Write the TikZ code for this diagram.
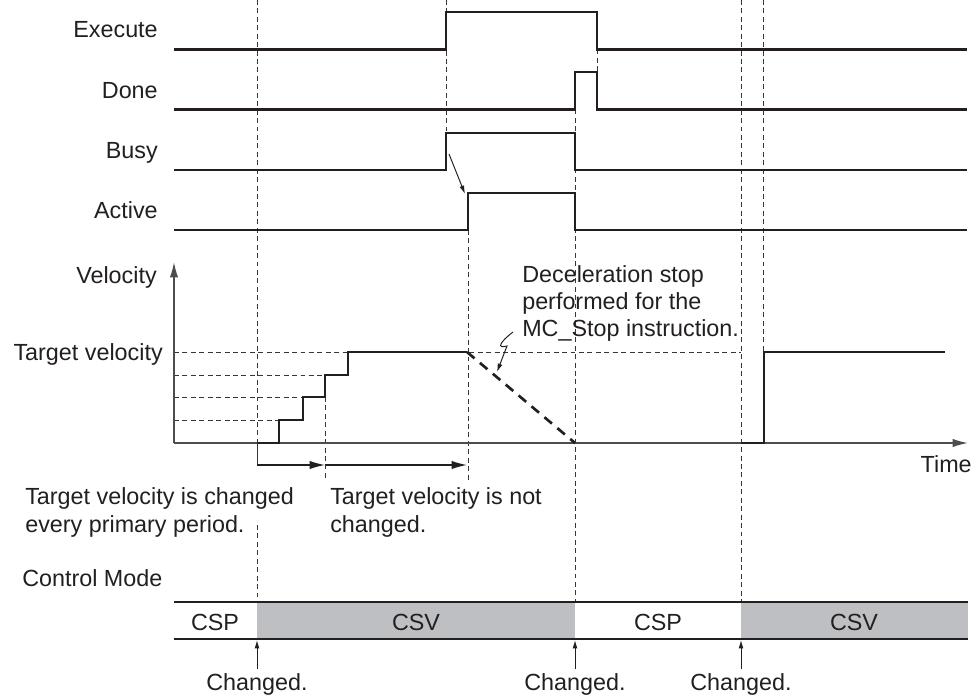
\documentclass[tikz,border=0pt]{standalone}
\usepackage{fontspec}
\setmainfont{Liberation Sans}
\usetikzlibrary{arrows.meta}
\definecolor{ink}{RGB}{35,31,32}
\definecolor{barfill}{RGB}{190,191,194}
\begin{document}
\begin{tikzpicture}[x=0.025cm,y=-0.025cm,
  lbl/.style={font=\fontsize{16.6}{19}\selectfont, inner sep=0pt, text=ink},
  sig/.style={line width=1.9pt, line join=miter, draw=ink},
  guide/.style={line width=0.7pt, dash pattern=on 3.5pt off 2.5pt, draw=ink!90},
  axisline/.style={line width=1.1pt, draw=ink!80},
  decel/.style={line width=1.9pt, dash pattern=on 7pt off 5pt, draw=ink},
  bigarrow/.style={line width=1pt, draw=ink, -{Latex[length=11pt,width=6pt]}},
  smallarrow/.style={line width=0.7pt, draw=ink, -{Latex[length=6pt,width=3.5pt]}},
  barline/.style={line width=2pt, draw=ink}
]
\useasboundingbox (0,0) rectangle (975,697);

% ---- control mode bar fills
\fill[barfill] (257,602) rectangle (575,639);
\fill[barfill] (741,602) rectangle (968,639);

% ---- guide lines
\draw[guide] (257,0) -- (257,465);
\draw[guide] (257,525) -- (257,602);
\draw[guide] (446,0) -- (446,133);
\draw[guide] (597,49.5) -- (597,72);
\draw[guide] (575,109.5) -- (575,602);
\draw[guide] (468,230) -- (468,480);
\draw[guide] (325,397) -- (325,480);
\draw[guide] (741,0) -- (741,602);
\draw[guide] (763,0) -- (763,352);
\draw[guide] (174,352) -- (741,352);
\draw[guide] (174,375) -- (325,375);
\draw[guide] (174,397) -- (303,397);
\draw[guide] (174,420) -- (279,420);

% ---- signal labels
\node[lbl, anchor=base east] (lexec) at (158,37) {Execute};
\node[lbl, anchor=base east] (ldone) at (158,98) {Done};
\node[lbl, anchor=base east] (lbusy) at (158,158) {Busy};
\node[lbl, anchor=base east] (lact) at (158,218) {Active};

% ---- signals
\draw[sig] (174,49.5) -- (446,49.5) -- (446,12) -- (597,12) -- (597,49.5) -- (967,49.5);
\draw[sig] (174,109.5) -- (575,109.5) -- (575,72) -- (597,72) -- (597,109.5) -- (967,109.5);
\draw[sig] (174,170) -- (446,170) -- (446,133) -- (575,133) -- (575,170) -- (967,170);
\draw[sig] (174,230) -- (468,230) -- (468,193) -- (575,193) -- (575,230) -- (967,230);

\coordinate (busyrise) at (449,154);
\coordinate (actrise) at (465,194);
\draw[smallarrow] (busyrise) -- (actrise);

% ---- velocity chart
\coordinate (origin) at (174,443);
\coordinate (vtop) at (174,262);
\coordinate (tend) at (968,443);
\draw[axisline, -{Latex[length=11pt,width=6pt]}] (origin) -- (vtop);
\draw[axisline, -{Latex[length=11pt,width=6pt]}] (origin) -- (tend);

\node[lbl, anchor=base east] (lvel) at (157,283) {Velocity};
\node[lbl, anchor=base east] (ltv) at (163,360) {Target velocity};
\node[lbl, anchor=base east] (ltime) at (972,472) {Time};

\draw[sig] (257,443) -- (279,443) -- (279,420) -- (303,420) -- (303,397) -- (325,397)
  -- (325,375) -- (348,375) -- (348,352) -- (467,352);
\draw[decel] (467,352) -- (575,443);
\draw[sig] (741,443) -- (764,443) -- (764,352) -- (945,352);

\node[lbl, anchor=base west] (dec1) at (522,282) {Deceleration stop};
\node[lbl, anchor=base west] (dec2) at (522,309) {performed for the};
\node[lbl, anchor=base west] (dec3) at (522,336) {MC\_Stop instruction.};
\coordinate (zstart) at (513,332);
\coordinate (ztip) at (497,372);
\draw[smallarrow] (zstart) .. controls (500,342) and (496,349) .. (507,346) -- (ztip);

% ---- period arrows
\draw[guide] (257,443) -- (257,465);
\coordinate (p0) at (257,465);
\coordinate (p1) at (325,465);
\coordinate (p2) at (467,465);
\draw[bigarrow] (p0) -- (p1);
\draw[bigarrow] (p1) -- (p2);

\node[lbl, anchor=base west] (tc1) at (25,504) {Target velocity is changed};
\node[lbl, anchor=base west] (tc2) at (25,532) {every primary period.};
\node[lbl, anchor=base west] (tn1) at (330,504) {Target velocity is not};
\node[lbl, anchor=base west] (tn2) at (330,532) {changed.};

% ---- control mode
\node[lbl, anchor=base west] (lcm) at (22,586) {Control Mode};
\draw[barline] (174,602) -- (968,602);
\draw[barline] (174,639) -- (968,639);
\node[lbl, anchor=base] (m1) at (215,630) {CSP};
\node[lbl, anchor=base] (m2) at (416,630) {CSV};
\node[lbl, anchor=base] (m3) at (658,630) {CSP};
\node[lbl, anchor=base] (m4) at (854,630) {CSV};

\node[lbl, anchor=base] (c1) at (257,690) {Changed.};
\node[lbl, anchor=base] (c2) at (575,690) {Changed.};
\node[lbl, anchor=base] (c3) at (741,690) {Changed.};
\coordinate (b1) at (257,640);
\coordinate (b2) at (575,640);
\coordinate (b3) at (741,640);
\draw[smallarrow] (257,669) -- (b1);
\draw[smallarrow] (575,669) -- (b2);
\draw[smallarrow] (741,669) -- (b3);
\end{tikzpicture}
\end{document}
